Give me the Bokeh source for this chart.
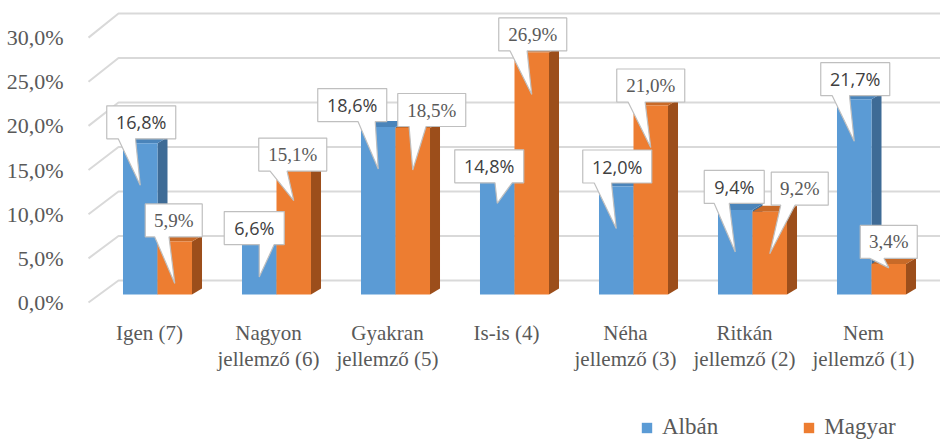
from bokeh.plotting import figure
from bokeh.models import Range1d, LinearAxis, FixedTicker, Legend, LegendItem
from bokeh.core.properties import value
from bokeh.embed import file_html
from bokeh.resources import INLINE

# ---------------- data ----------------
categories = ["Igen (7)", "Nagyon\njellemző (6)", "Gyakran\njellemző (5)", "Is-is (4)",
              "Néha\njellemző (3)", "Ritkán\njellemző (2)", "Nem\njellemző (1)"]
alban = [16.8, 6.6, 18.6, 14.8, 12.0, 9.4, 21.7]
magyar = [5.9, 15.1, 18.5, 26.9, 21.0, 9.2, 3.4]
series_names = ["Albán", "Magyar"]
y_ticks = [0, 5, 10, 15, 20, 25, 30]
y_tick_labels = ["0,0%", "5,0%", "10,0%", "15,0%", "20,0%", "25,0%", "30,0%"]

# ---------------- layout / style ----------------
W, H = 940, 440
X0, Y0 = 157.0, 294.0   # pixel of first category junction / bar base
PXU = 119.0   # px per category unit
PXV = 9.0     # px per percent (bar plane)
FL = 80       # frame left
BAR_W = 0.29
DX = 10 / PXU      # 3D depth offsets
DY = 6 / PXV
BLUE, BLUE_SIDE, BLUE_TOP = "#5B9BD5", "#3E6B96", "#4A84BA"
ORANGE, ORANGE_SIDE, ORANGE_TOP = "#ED7D31", "#9C4E1B", "#C86A28"
GRID = "#D9D9D9"
TXT = "#595959"
SERIF = "Liberation Serif"
SANS = "Open Sans"

# label box offsets (px, relative to bar top centre)
alban_off = [(1, -21), (-5, -7), (-26, -22), (-8, 5), (1, -20), (-1, -23), (1, -20)]
magyar_off = [(-1, -21), (-1, -4), (19, -18), (1, -18), (0, -20), (30, -23), (0, -22)]

p = figure(width=W, height=H, output_backend="svg", toolbar_location=None,
           x_range=Range1d((FL - X0) / PXU, (W - X0) / PXU),
           y_range=Range1d((Y0 - H) / PXV, Y0 / PXV),
           x_axis_location=None, y_axis_location=None,
           min_border_left=FL, min_border_right=0, min_border_top=0, min_border_bottom=0)
p.outline_line_color = None
p.xgrid.visible = False
p.ygrid.visible = False
p.background_fill_color = "white"

# front-plane axis range for tick labels
FPX = 8.83
FY0 = 302.0
p.extra_y_ranges = {"ax": Range1d((FY0 - H) / FPX, FY0 / FPX)}
yax = LinearAxis(y_range_name="ax", ticker=FixedTicker(ticks=y_ticks),
                 major_label_overrides={t: l for t, l in zip(y_ticks, y_tick_labels)})
yax.axis_line_color = None
yax.major_tick_line_color = None
yax.minor_tick_line_color = None
yax.major_label_standoff = 11
yax.major_label_text_font = SERIF
yax.major_label_text_font_size = "22px"
yax.major_label_text_color = TXT
p.add_layout(yax, "left")

# ---------------- perspective gridlines ----------------
gx, gy = [], []
for t in y_ticks:
    v_front = (Y0 - (FY0 - FPX * t)) / PXV
    v_back = (Y0 - (280 - 8.9 * t)) / PXV
    gx.append([(88 - X0) / PXU, (118 - X0) / PXU, 7.0])
    gy.append([v_front, v_back, v_back])
p.multi_line(gx, gy, line_color=GRID, line_width=2)

# ---------------- 3D bars ----------------
def bar_faces(centers, vals):
    sx, sy, tx, ty = [], [], [], []
    for c, v in zip(centers, vals):
        x0, x1 = c - BAR_W / 2, c + BAR_W / 2
        sx.append([x1, x1 + DX, x1 + DX, x1]); sy.append([0, DY, v + DY, v])
        tx.append([x0, x0 + DX, x1 + DX, x1]); ty.append([v, v + DY, v + DY, v])
    return sx, sy, tx, ty

idx = list(range(len(categories)))
renderers = []
for vals, sign, col, side, top in [(alban, -1, BLUE, BLUE_SIDE, BLUE_TOP),
                                   (magyar, 1, ORANGE, ORANGE_SIDE, ORANGE_TOP)]:
    centers = [i + sign * BAR_W / 2 for i in idx]
    sx, sy, tx, ty = bar_faces(centers, vals)
    p.patches(sx, sy, fill_color=side, line_color=None)
    p.patches(tx, ty, fill_color=top, line_color=None)
    r = p.vbar(x=centers, width=BAR_W, top=vals, bottom=0, fill_color=col, line_color=None)
    renderers.append(r)

# ---------------- callout labels ----------------
def fmt(v):
    return f"{v:.1f}".replace(".", ",") + "%"

for vals, sign, offs, font, size, color, wide in [
        (alban, -1, alban_off, SANS, "18px", "#404040", (69, 60)),
        (magyar, 1, magyar_off, SERIF, "19px", TXT, (68, 57))]:
    pxs, pys, lx, ly, lt = [], [], [], [], []
    for i, v in enumerate(vals):
        c = i + sign * BAR_W / 2
        s = fmt(v)
        w = wide[0] if len(s) >= 5 else wide[1]
        h = 33
        dxp, dyp = offs[i]
        hpx = v * PXV
        tip = 42 if hpx > 45 else hpx * 0.13
        L, R, T, B = dxp - w / 2, dxp + w / 2, dyp - h / 2, dyp + h / 2
        if 0 > dxp + 1:
            b1, b2 = L + 7 * w / 12, L + 10 * w / 12
        else:
            b1, b2 = L + 2 * w / 12, L + 5 * w / 12
        pts = [(L, T), (R, T), (R, B), (b2, B), (0, tip), (b1, B), (L, B)]
        pxs.append([c + a / PXU for a, b in pts])
        pys.append([v - b / PXV for a, b in pts])
        lx.append(c + dxp / PXU)
        ly.append(v - dyp / PXV)
        lt.append(s)
    p.patches(pxs, pys, fill_color="white", line_color="#BFBFBF", line_width=1.2)
    p.text(x=lx, y=ly, text=lt, text_font=value(font), text_font_size=value(size),
           text_color=color, text_align="center", text_baseline="middle")

# ---------------- category labels ----------------
line1 = [c.split("\n")[0] for c in categories]
line2 = [c.split("\n")[1] if "\n" in c else "" for c in categories]
cat_x = [i - 8 / PXU for i in idx]
p.text(x=cat_x, y=[(Y0 - 332) / PXV] * len(idx), text=line1, text_font=value(SERIF),
       text_font_size=value("21px"), text_color=TXT, text_align="center", text_baseline="middle")
p.text(x=cat_x, y=[(Y0 - 358) / PXV] * len(idx), text=line2, text_font=value(SERIF),
       text_font_size=value("21px"), text_color=TXT, text_align="center", text_baseline="middle")

# ---------------- legend ----------------
legend = Legend(items=[LegendItem(label=n, renderers=[r]) for n, r in zip(series_names, renderers)],
                orientation="horizontal", location=(640 - FL, 0), padding=0, margin=0,
                spacing=84, glyph_width=13, glyph_height=13, label_standoff=9,
                border_line_color=None, background_fill_alpha=0,
                label_text_font=SERIF, label_text_font_size="23px", label_text_color=TXT)
p.add_layout(legend)

open("out.html", "w").write(file_html(p, INLINE))
